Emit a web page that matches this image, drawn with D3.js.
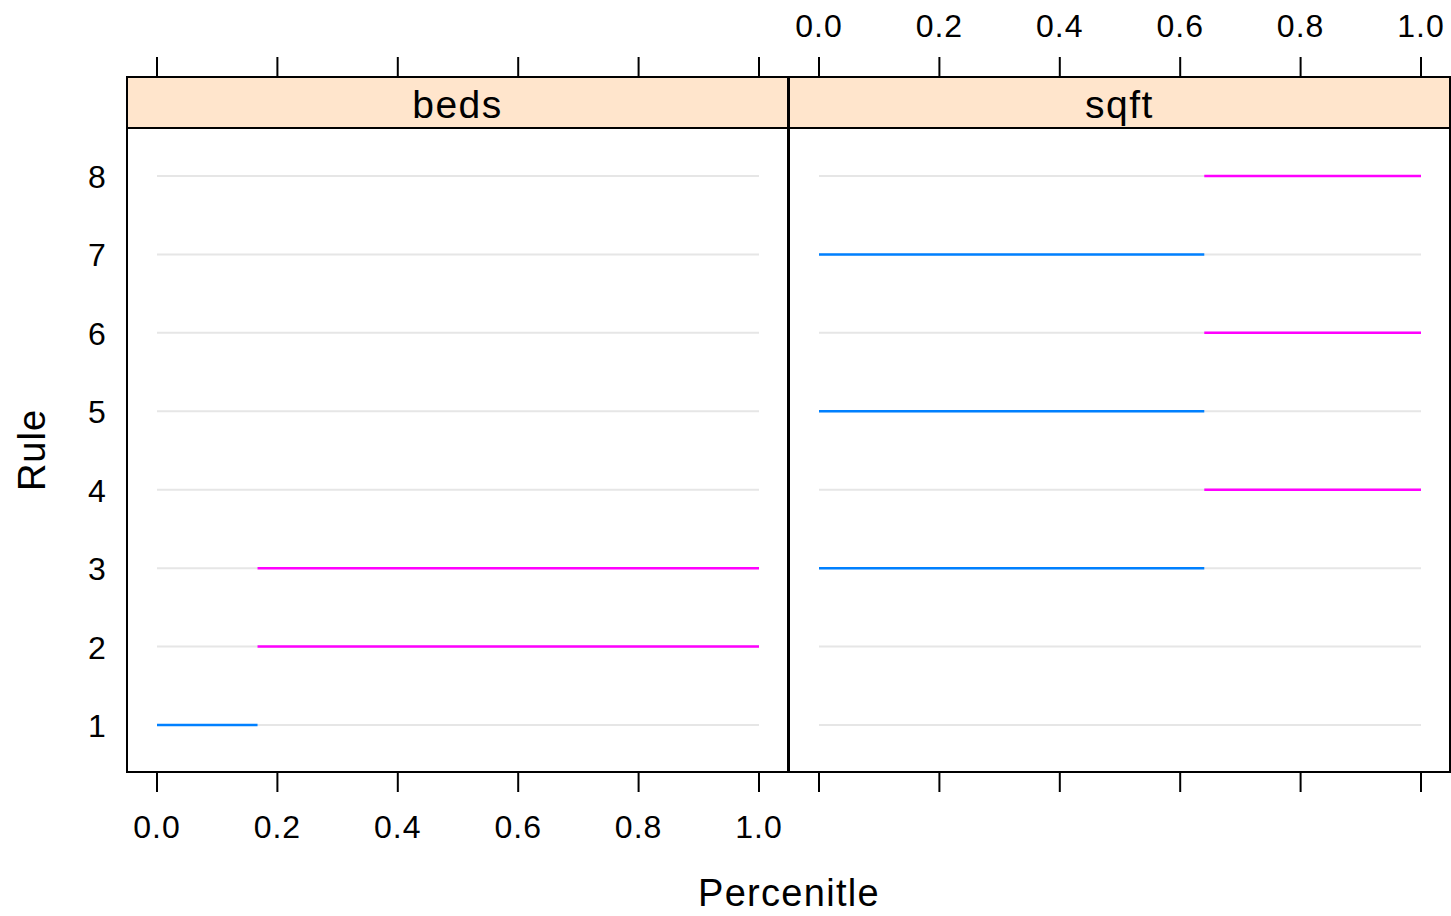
<!DOCTYPE html>
<html>
<head>
<meta charset="utf-8">
<script src="https://d3js.org/d3.v7.min.js"></script>
<style>
  body { margin: 0; background: #fff; }
  text { font-family: "Liberation Sans", Arial, sans-serif; fill: #000; }
</style>
</head>
<body>
<div id="chart"></div>
<script>
// panels and rules
var panels = ["beds", "sqft"];
var rules = [1, 2, 3, 4, 5, 6, 7, 8];
var xTicks = [0, 0.2, 0.4, 0.6, 0.8, 1.0];

// segments per panel: rule, start, end, direction
var bedsRule  = [1, 2, 3];
var bedsFrom  = [0, 0.167, 0.167];
var bedsTo    = [0.167, 1, 1];
var bedsDir   = ["lo", "hi", "hi"];

var sqftRule  = [3, 4, 5, 6, 7, 8];
var sqftFrom  = [0, 0.64, 0, 0.64, 0, 0.64];
var sqftTo    = [0.64, 1, 0.64, 1, 0.64, 1];
var sqftDir   = ["lo", "hi", "lo", "hi", "lo", "hi"];

var W = 1451, H = 916;
var panelTop = 128, panelBottom = 772, stripTop = 77;
var panelX = [127, 789], panelW = 661;

var svg = d3.select("#chart").append("svg")
    .attr("width", W).attr("height", H);

var y = d3.scaleLinear().domain([1, 8]).range([725, 176]);
var color = { lo: "#0080ff", hi: "#ff00ff" };

var segs = {
  beds: bedsRule.map(function(r, i) { return { rule: r, from: bedsFrom[i], to: bedsTo[i], dir: bedsDir[i] }; }),
  sqft: sqftRule.map(function(r, i) { return { rule: r, from: sqftFrom[i], to: sqftTo[i], dir: sqftDir[i] }; })
};

panels.forEach(function(p, pi) {
  var x0 = panelX[pi];
  var x = d3.scaleLinear().domain([0, 1]).range([x0 + 30, x0 + 632]);
  var g = svg.append("g");

  // strip
  g.append("rect")
      .attr("x", x0).attr("y", stripTop)
      .attr("width", panelW).attr("height", panelTop - stripTop)
      .attr("fill", "#ffe5cc").attr("stroke", "#000").attr("stroke-width", 2);
  g.append("text")
      .attr("x", x0 + panelW / 2).attr("y", panelTop - 10)
      .attr("text-anchor", "middle").attr("font-size", 39)
      .attr("letter-spacing", 1.5)
      .text(p);

  // reference lines
  g.selectAll(".ref").data(rules).enter().append("line")
      .attr("x1", x(0)).attr("x2", x(1))
      .attr("y1", function(d) { return y(d); })
      .attr("y2", function(d) { return y(d); })
      .attr("stroke", "#e6e6e6").attr("stroke-width", 2);

  // segments
  g.selectAll(".seg").data(segs[p]).enter().append("line")
      .attr("x1", function(d) { return x(d.from); })
      .attr("x2", function(d) { return x(d.to); })
      .attr("y1", function(d) { return y(d.rule); })
      .attr("y2", function(d) { return y(d.rule); })
      .attr("stroke", function(d) { return color[d.dir]; })
      .attr("stroke-width", 2.5);

  // panel border
  g.append("rect")
      .attr("x", x0).attr("y", panelTop)
      .attr("width", panelW).attr("height", panelBottom - panelTop)
      .attr("fill", "none").attr("stroke", "#000").attr("stroke-width", 2);

  // ticks top and bottom
  g.selectAll(".tt").data(xTicks).enter().append("line")
      .attr("x1", function(d) { return x(d); }).attr("x2", function(d) { return x(d); })
      .attr("y1", stripTop).attr("y2", stripTop - 20)
      .attr("stroke", "#000").attr("stroke-width", 2);
  g.selectAll(".bt").data(xTicks).enter().append("line")
      .attr("x1", function(d) { return x(d); }).attr("x2", function(d) { return x(d); })
      .attr("y1", panelBottom).attr("y2", panelBottom + 20)
      .attr("stroke", "#000").attr("stroke-width", 2);

  // labels: bottom on left panel, top on right panel
  var ly = pi === 0 ? 838 : 37;
  g.selectAll(".tl").data(xTicks).enter().append("text")
      .attr("x", function(d) { return x(d); }).attr("y", ly)
      .attr("text-anchor", "middle").attr("font-size", 32)
      .attr("letter-spacing", 1)
      .text(function(d) { return d3.format(".1f")(d); });
});

// y tick labels
svg.selectAll(".yl").data(rules).enter().append("text")
    .attr("x", 97).attr("y", function(d) { return y(d) + 12; })
    .attr("text-anchor", "middle").attr("font-size", 32)
    .text(function(d) { return d; });

// axis titles
svg.append("text")
    .attr("x", 789).attr("y", 906)
    .attr("text-anchor", "middle").attr("font-size", 38)
    .attr("letter-spacing", 1.3)
    .text("Percenitle");
svg.append("text")
    .attr("transform", "translate(45,450) rotate(-90)")
    .attr("text-anchor", "middle").attr("font-size", 38)
    .attr("letter-spacing", 1)
    .text("Rule");
</script>
</body>
</html>
